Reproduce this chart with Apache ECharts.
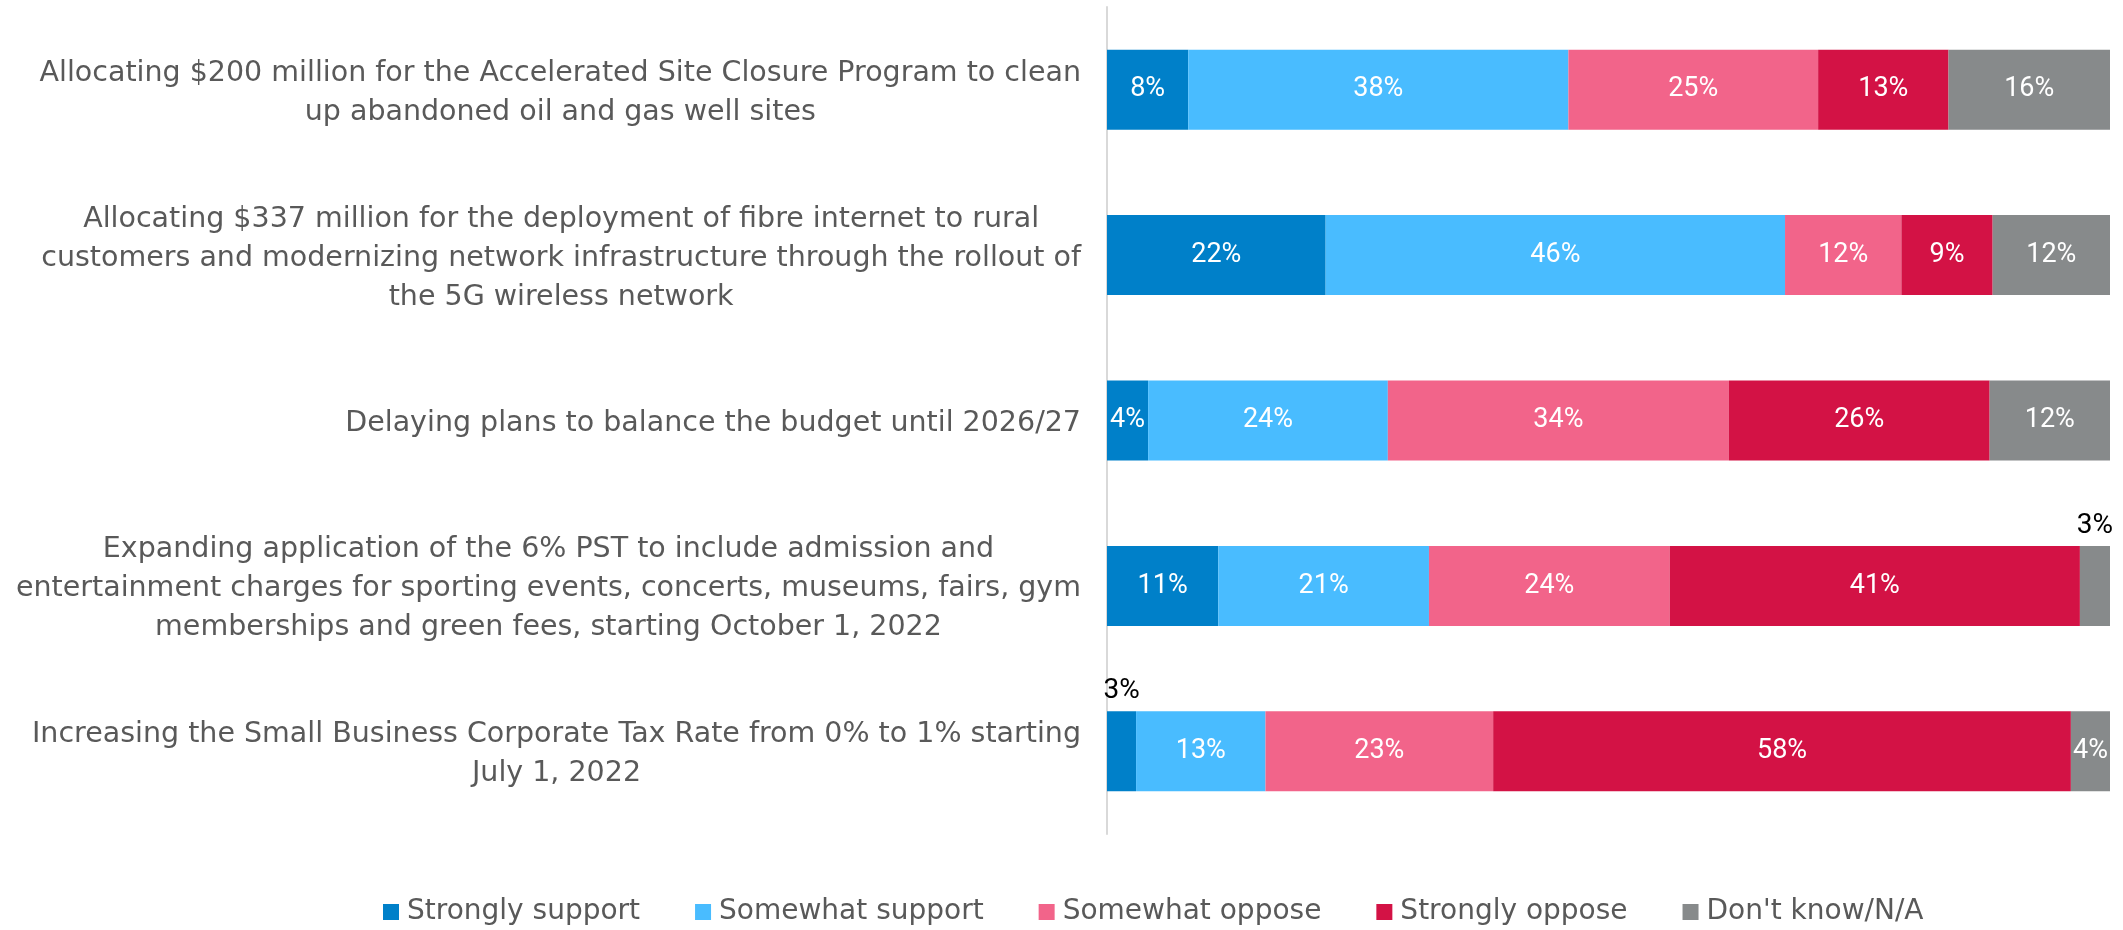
<!DOCTYPE html>
<html>
<head>
<meta charset="utf-8">
<script src="https://cdn.jsdelivr.net/npm/echarts@6/dist/echarts.min.js"></script>
<style>
  html, body { margin: 0; padding: 0; background: #ffffff; }
  #chart { width: 2123px; height: 930px; }
</style>
</head>
<body>
<div id="chart"></div>
<script>
const categories = [
  "Allocating $200 million for the Accelerated Site Closure Program to clean\nup abandoned oil and gas well sites",
  "Allocating $337 million for the deployment of fibre internet to rural\ncustomers and modernizing network infrastructure through the rollout of\nthe 5G wireless network",
  "Delaying plans to balance the budget until 2026/27",
  "Expanding application of the 6% PST to include admission and\nentertainment charges for sporting events, concerts, museums, fairs, gym\nmemberships and green fees, starting October 1, 2022",
  "Increasing the Small Business Corporate Tax Rate from 0% to 1% starting\nJuly 1, 2022"
];
const seriesNames = ["Strongly support", "Somewhat support", "Somewhat oppose", "Strongly oppose", "Don't know/N/A"];
const stronglySupport = [8.1, 21.8, 4.1, 11.1, 2.9];
const somewhatSupport = [37.9, 45.8, 23.9, 21.0, 12.9];
const somewhatOppose  = [24.9, 11.6, 34.0, 24.0, 22.7];
const stronglyOppose  = [13.0, 9.1, 26.0, 40.9, 57.6];
const dontKnow        = [16.1, 11.7, 12.0, 3.0, 3.9];
const colors = ["#0080C9", "#49BCFF", "#F2648A", "#D31245", "#878A8B"];

const seriesValues = [stronglySupport, somewhatSupport, somewhatOppose, stronglyOppose, dontKnow];
const textFont = "'DejaVu Sans', Verdana, sans-serif";
const labelFont = "Roboto, 'Liberation Sans', sans-serif";

const series = seriesNames.map((name, si) => ({
  name: name,
  type: 'bar',
  stack: 'total',
  barWidth: 80,
  itemStyle: { color: colors[si] },
  label: {
    show: true,
    position: 'inside',
    color: '#ffffff',
    fontFamily: labelFont,
    fontSize: 27,
    formatter: p => Math.round(p.value) + '%'
  },
  data: seriesValues[si].map(v => {
    if (Math.round(v) === 3) {
      return { value: v, label: { position: 'top', color: '#000000', distance: 6, fontSize: 28 } };
    }
    return v;
  })
}));

const chart = echarts.init(document.getElementById('chart'), null, { renderer: 'canvas' });
chart.setOption({
  animation: false,
  backgroundColor: '#ffffff',
  grid: { left: 1107, right: 13, top: 7, bottom: 96, containLabel: false },
  legend: {
    top: 893,
    left: 378,
    itemWidth: 16,
    itemHeight: 16,
    itemGap: 55,
    icon: 'rect',
    textStyle: { color: '#595959', fontSize: 28, fontFamily: textFont, padding: [0, 0, 0, 3] },
    data: seriesNames
  },
  xAxis: {
    type: 'value', min: 0, max: 100,
    show: false
  },
  yAxis: {
    type: 'category',
    inverse: true,
    data: categories,
    axisLine: { show: true, lineStyle: { color: '#D9D9D9', width: 2 } },
    axisTick: { show: false },
    axisLabel: {
      margin: 26,
      align: 'right',
      padding: [6, 0, 0, 0],
      formatter: v => v.split('\n').map(l => '{c|' + l + '}').join('\n'),
      rich: {
        c: {
          align: 'center',
          color: '#595959',
          fontSize: 28.5,
          lineHeight: 39,
          fontFamily: textFont
        }
      }
    }
  },
  series: series
});
</script>
</body>
</html>
